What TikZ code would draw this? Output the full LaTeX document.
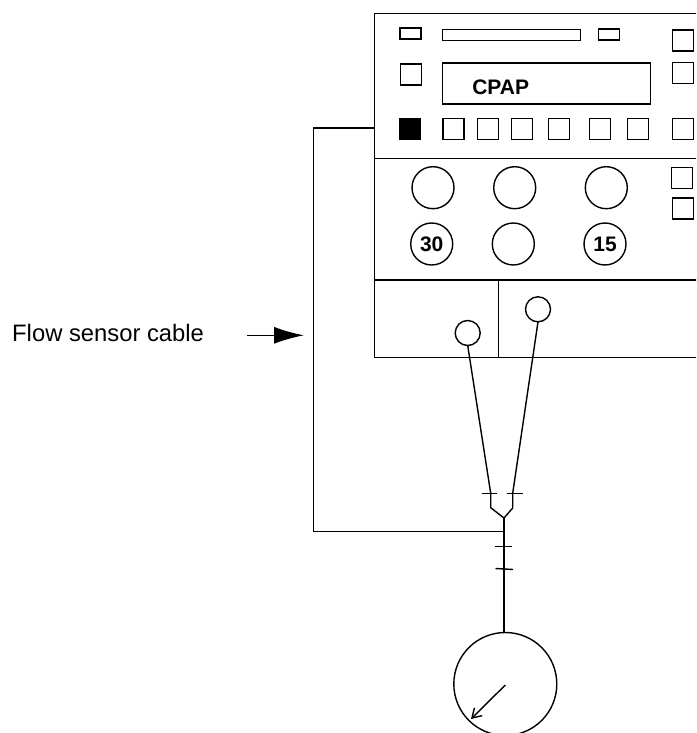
\documentclass[tikz,border=0pt]{standalone}
\usepackage{fontspec}
\setmainfont{Liberation Sans}
\usepackage{tikz}
\usetikzlibrary{arrows.meta, positioning}

\begin{document}
\begin{tikzpicture}[
    x=1pt, y=-1pt,
    panel/.style={draw, line width=1.4pt},
    button/.style={draw, line width=1.4pt, minimum width=21pt, minimum height=21pt, inner sep=0pt, outer sep=0pt},
    slot/.style={draw, line width=1.4pt, minimum width=21pt, minimum height=11pt, inner sep=0pt, outer sep=0pt},
    knob/.style={draw, circle, line width=1.4pt, minimum size=42pt, inner sep=0pt, outer sep=0pt, font=\fontsize{21}{22}\selectfont\bfseries},
    port/.style={draw, circle, line width=1.4pt, minimum size=25pt, inner sep=0pt, outer sep=0pt},
    cable/.style={line width=1.4pt},
    tick/.style={line width=1.4pt}
]
\useasboundingbox (0,0) rectangle (696,733);
\clip (0,0) rectangle (696,733);

% Ventilator front panel
\coordinate (ptl) at (374.5,13.5);
\coordinate (ptr) at (697,13.5);
\coordinate (pbl) at (374.5,357.5);
\coordinate (pbr) at (697,357.5);
\coordinate (mid1l) at (374.5,158.5);
\coordinate (mid1r) at (697,158.5);
\coordinate (mid2l) at (374.5,280);
\coordinate (mid2r) at (697,280);
\coordinate (divt) at (498.7,280);
\coordinate (divb) at (498.7,357.5);
\draw[panel] (ptr) -- (ptl) -- (pbl) -- (pbr);
\draw[panel] (mid1l) -- (mid1r);
\draw[panel] (mid2l) -- (mid2r);
\draw[panel] (divt) -- (divb);

% Top row
\node[slot] (s1) at (410.5,33.5) {};
\node[slot, minimum width=138pt] (s2) at (511.5,35) {};
\node[slot] (s3) at (608.7,34.5) {};
\node[button] (r1) at (683,40.5) {};
\node[button] (r2) at (683,73) {};
\node[button] (b0) at (410.7,74.5) {};

% Display
\node[draw, line width=1.4pt, minimum width=208pt, minimum height=41pt, inner sep=0pt, outer sep=0pt] (display) at (546.5,83.5) {};
\node[font=\fontsize{21}{22}\selectfont\bfseries] (cpap) at (500.7,87) {CPAP};

% Button row
\node[button, fill=black] (sensor) at (410,129) {};
\foreach \n/\px in {b1/453.5, b2/487.7, b3/522.2, b4/558.7, b5/600.2, b6/637.7, b7/683}
    \node[button] (\n) at (\px,129) {};

% Knobs
\node[knob] (k1) at (433,187.7) {};
\node[knob] (k2) at (514.7,187.7) {};
\node[knob] (k3) at (606.3,187.7) {};
\node[knob] (k4) at (431.7,244) {30};
\node[knob] (k5) at (513.3,244) {};
\node[knob] (k6) at (605,244) {15};
\node[button] (r3) at (682,178) {};
\node[button] (r4) at (683,208.5) {};

% Ports
\node[port] (p1) at (467.7,333) {};
\node[port] (p2) at (538,309.3) {};

% Y piece
\coordinate (ya) at (490.7,493.3);
\coordinate (yb) at (490.7,507.7);
\coordinate (yc) at (512.7,493.3);
\coordinate (yd) at (512.7,508);
\coordinate (ye) at (504,518);
\coordinate (yj) at (504,531.7);
\draw[cable] (p1.south) -- (ya) -- (yb) -- (ye);
\draw[cable] (p2.south) -- (yc) -- (yd) -- (ye);
\draw[tick] (481.5,493.3) -- (497,493.3);
\draw[tick] (507,493.3) -- (522.5,493.3);

% Flow sensor
\node[draw, circle, line width=1.4pt, minimum size=103pt, inner sep=0pt, outer sep=0pt] (gauge) at (505.3,684) {};
\coordinate (needle) at (505.3,685);
\coordinate (tip) at (471,719);
\draw[cable] (ye) -- (ye |- gauge.north);
\draw[tick] (495,546.5) -- (512,546.5);
\draw[tick] (495.5,568.5) -- (513,569.5);
\draw[cable, -{Straight Barb[length=9pt,width=11pt]}] (needle) -- (tip);

% Flow sensor cable
\coordinate (c1) at (313.5,531.7);
\coordinate (c2) at (313.5,128);
\coordinate (c3) at (374.5,128);
\draw[cable] (yj) -- (c1) -- (c2) -- (c3);

% Label
\node[anchor=base west, inner sep=0pt, font=\fontsize{23.8}{26}\selectfont] (label) at (12,341) {Flow sensor cable};
\coordinate (la) at (247,335.3);
\coordinate (lb) at (304,335.3);
\draw[cable, -{Latex[length=30pt,width=17pt]}] (la) -- (lb);
\end{tikzpicture}
\end{document}
